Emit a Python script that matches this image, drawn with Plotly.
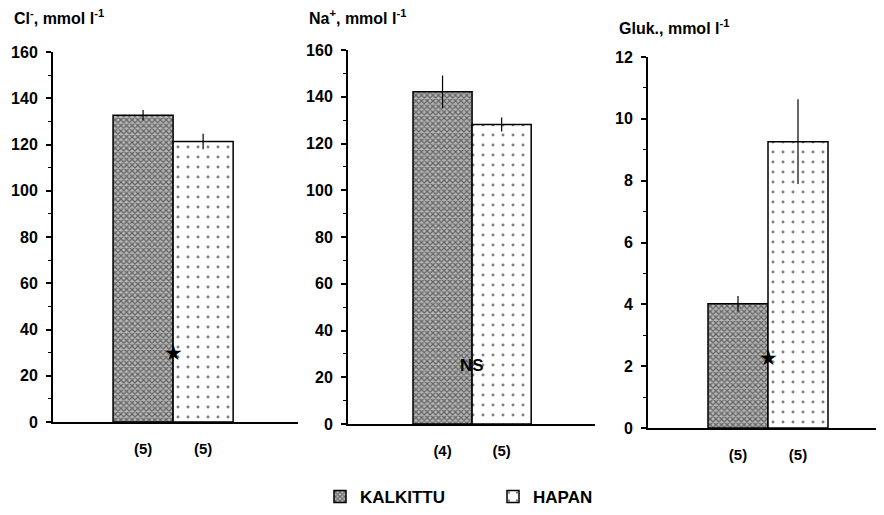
import plotly.graph_objects as go

groups = ["KALKITTU", "HAPAN"]

cl_mean = [132.7, 121.3]
cl_err = [2.2, 3.3]
cl_n = ["(5)", "(5)"]

na_mean = [142.1, 128.1]
na_err = [7.0, 3.0]
na_n = ["(4)", "(5)"]

gluk_mean = [4.02, 9.26]
gluk_err = [0.25, 1.37]
gluk_n = ["(5)", "(5)"]

titles = ["Cl<sup>-</sup>, mmol l<sup>-1</sup>", "Na<sup>+</sup>, mmol l<sup>-1</sup>", "Gluk., mmol l<sup>-1</sup>"]
sig_marks = ["★", "NS", "★"]
sig_y = [30, 25, 2.25]

# page body has an 8px margin, so the figure is sized to fit inside the 884x515 window
W0, H0, M = 884, 515, 8
W, H = W0 - 2 * M, H0 - 2 * M
FONT = "Liberation Sans"


def fx(px):
    return min(max((px - M) / W, 0), 1)


def fy(py):
    return min(max(1 - (py - M) / H, 0), 1)


panels = [
    dict(mean=cl_mean, err=cl_err, n=cl_n, yrange=[0, 160], dtick=20, minor=10,
         xpx=(53, 298), ypx=(422, 52), xrange=[-1.5, 2.58], title_px=(12, 17)),
    dict(mean=na_mean, err=na_err, n=na_n, yrange=[0, 160], dtick=20, minor=10,
         xpx=(348, 595), ypx=(424, 50), xrange=[-1.6, 2.58], title_px=(307, 17)),
    dict(mean=gluk_mean, err=gluk_err, n=gluk_n, yrange=[0, 12], dtick=2, minor=1,
         xpx=(648, 876), ypx=(428, 57), xrange=[-1.5, 2.3], title_px=(617, 27)),
]

patterns = [
    dict(shape="x", size=4, solidity=0.55, fgcolor="#111111", bgcolor="#b8b8b8", fillmode="overlay"),
    dict(shape=".", size=10, solidity=0.07, fgcolor="#000000", bgcolor="#ffffff", fillmode="overlay"),
]

fig = go.Figure()
layout = dict(
    template="none",
    width=W, height=H, margin=dict(l=0, r=0, t=0, b=0, pad=0, autoexpand=False),
    paper_bgcolor="white", plot_bgcolor="white",
    barmode="overlay", showlegend=True,
    font=dict(family=FONT, size=14, color="black", weight="bold"),
    legend=dict(orientation="h", x=fx(493), xanchor="center", y=fy(497), yanchor="middle",
                font=dict(size=17, weight="bold"), itemwidth=30, traceorder="normal",
                entrywidth=128, entrywidthmode="pixels", bgcolor="rgba(0,0,0,0)"),
)
annotations = []

for i, p in enumerate(panels):
    k = "" if i == 0 else str(i + 1)
    xa, ya = "x" + k, "y" + k
    for g in range(2):
        fig.add_trace(go.Bar(
            x=[groups[g]], y=[p["mean"][g]], width=1,
            name=groups[g], legendgroup=groups[g], showlegend=(i == 0),
            marker=dict(color=patterns[g]["bgcolor"], line=dict(color="black", width=1.5),
                        pattern=patterns[g]),
            error_y=dict(type="data", array=[p["err"][g]], color="black", thickness=1.2, width=0),
            xaxis=xa, yaxis=ya,
        ))
    if sig_marks[i] == "★":
        annotations.append(dict(x=0.5, y=sig_y[i], xref=xa, yref=ya, text="★", showarrow=False,
                                font=dict(family="DejaVu Sans", size=21, color="black")))
    else:
        annotations.append(dict(x=0.5, y=sig_y[i], xref=xa, yref=ya, text=sig_marks[i],
                                showarrow=False, font=dict(size=17, weight="bold")))
    x0, x1 = p["xpx"]
    yb, yt = p["ypx"]
    layout["xaxis" + k] = dict(
        domain=[fx(x0), fx(x1)], range=p["xrange"], type="category",
        categoryorder="array", categoryarray=groups,
        tickmode="array", tickvals=groups, ticktext=p["n"],
        showline=True, linecolor="black", linewidth=2, ticks="", showgrid=False,
        zeroline=False, ticklabelstandoff=12, anchor=ya, fixedrange=True, automargin=False,
        tickfont=dict(size=15, weight="bold"),
    )
    layout["yaxis" + k] = dict(
        domain=[fy(yb), fy(yt)], range=p["yrange"], dtick=p["dtick"],
        showline=True, linecolor="black", linewidth=2, ticks="outside", ticklen=5,
        tickwidth=1.5, tickcolor="black", showgrid=False, zeroline=False, anchor=xa,
        automargin=False,
        minor=dict(dtick=p["minor"], ticks="outside", ticklen=3, tickcolor="black", tickwidth=1,
                   showgrid=False),
        tickfont=dict(size=16, weight="bold"), ticklabelstandoff=5,
    )
    tx, ty = p["title_px"]
    annotations.append(dict(x=fx(tx), y=fy(ty), xref="paper", yref="paper",
                            xanchor="left", yanchor="middle", text=titles[i], showarrow=False,
                            font=dict(size=16, weight="bold")))

layout["annotations"] = annotations
fig.update_layout(**layout)
fig.write_html("out.html")
